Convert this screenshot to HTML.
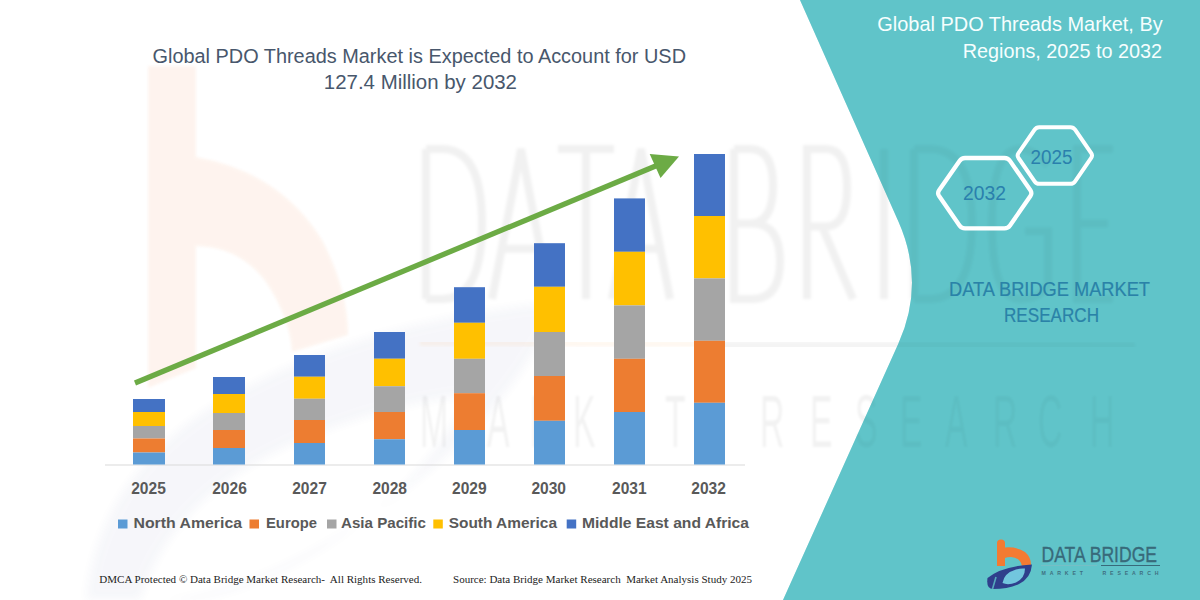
<!DOCTYPE html>
<html>
<head>
<meta charset="utf-8">
<style>
html,body{margin:0;padding:0;width:1200px;height:600px;overflow:hidden;background:#fff;}
svg{display:block;}
text{font-family:"Liberation Sans", sans-serif;}
.serif{font-family:"Liberation Serif", serif;}
</style>
</head>
<body>
<svg width="1200" height="600" viewBox="0 0 1200 600">
  <defs>
    <filter id="blur1" x="-20%" y="-20%" width="140%" height="140%"><feGaussianBlur stdDeviation="1.2"/></filter>
    <filter id="blur3" x="-20%" y="-20%" width="140%" height="140%"><feGaussianBlur stdDeviation="5"/></filter>
    <filter id="blur2" x="-5%" y="-10%" width="110%" height="120%"><feGaussianBlur stdDeviation="1.8"/></filter>
  </defs>
  <rect x="0" y="0" width="1200" height="600" fill="#ffffff"/>

  <!-- teal panel -->
  <path d="M800,0 L898.4,221.6 Q925.6,283 898.4,343.6 L783,600 L1200,600 L1200,0 Z" fill="#60c5c9"/>

  <!-- watermark -->
  <g id="wm">
    <path d="M148,66 L196,66 L196,157 Q280,172 322,240 Q348,290 348,335 L292,352 Q290,318 266,282 Q240,247 196,246 L196,368 L148,388 Z" fill="#f26a21" opacity="0.07" filter="url(#blur2)"/>
    <path d="M86,600 Q100,460 250,385 Q380,318 560,302 Q500,440 330,540 Q230,600 150,600 Z M140,600 Q170,500 290,445 Q380,405 470,395 Q420,490 320,550 Q250,592 190,600 Z" fill="#2f3f8c" fill-rule="evenodd" opacity="0.04" filter="url(#blur3)"/>
    <g fill="none" stroke="#000" stroke-opacity="0.055" stroke-width="8" stroke-linejoin="miter" filter="url(#blur2)">
      <path d="M426,149.0 L426,299.0 M426,149.0 L442,149.0 Q482,149.0 482,223.5 Q482,299.0 442,299.0 L426,299.0"/>
      <path d="M492,299.0 L521,149.0 L550,299.0 M502,248.7 L540,248.7"/>
      <path d="M558,149.0 L614,149.0 M586,149.0 L586,299.0"/>
      <path d="M612,299.0 L641,149.0 L670,299.0 M622,248.7 L660,248.7"/>
      <path d="M734,149.0 L734,299.0 L752,299.0 Q780,299.0 780,261.3 Q780,223.5 752,223.5 L734,223.5 M734,149.0 L750,149.0 Q773,149.0 773,185.8 Q773,223.5 750,223.5"/>
      <path d="M807,299.0 L807,149.0 L826,149.0 Q847,149.0 847,187.7 Q847,226.4 826,226.4 L807,226.4 M822,226.4 L853,299.0"/>
      <path d="M884,149.0 L884,299.0"/>
      <path d="M914,149.0 L914,299.0 M914,149.0 L930,149.0 Q972,149.0 972,223.5 Q972,299.0 930,299.0 L914,299.0"/>
      <path d="M1048,165.5 Q1035,149.0 1020,149.0 Q992,149.0 992,223.5 Q992,299.0 1020,299.0 Q1040,299.0 1048,284.5 L1048,231.3 L1025,231.3"/>
      <path d="M1113,149.0 L1077,149.0 L1077,299.0 L1113,299.0 M1077,223.5 L1108,223.5"/>
    </g>
    <g filter="url(#blur2)"><path d="M420,343 L700,344" stroke="#e87a3a" stroke-opacity="0.06" stroke-width="6"/><path d="M700,345 L1135,346" stroke="#000" stroke-opacity="0.045" stroke-width="8"/></g>
    <g fill="#000" fill-opacity="0.05" font-size="75" filter="url(#blur1)">
      <text transform="translate(420,447) scale(0.45,1)">M</text>
      <text transform="translate(487,447) scale(0.45,1)">A</text>
      <text transform="translate(530,447) scale(0.45,1)">R</text>
      <text transform="translate(573,447) scale(0.45,1)">K</text>
      <text transform="translate(622,447) scale(0.45,1)">E</text>
      <text transform="translate(665,447) scale(0.45,1)">T</text>
      <text transform="translate(760,447) scale(0.45,1)">R</text>
      <text transform="translate(810,447) scale(0.45,1)">E</text>
      <text transform="translate(855,447) scale(0.45,1)">S</text>
      <text transform="translate(900,447) scale(0.45,1)">E</text>
      <text transform="translate(945,447) scale(0.45,1)">A</text>
      <text transform="translate(993,447) scale(0.45,1)">R</text>
      <text transform="translate(1038,447) scale(0.45,1)">C</text>
      <text transform="translate(1090,447) scale(0.45,1)">H</text>
    </g>
  </g>
  <path d="M800,0 L898.4,221.6 Q925.6,283 898.4,343.6 L783,600 L1200,600 L1200,0 Z" fill="#60c5c9" opacity="0.3"/>

  <!-- axis line -->
  <rect x="105" y="464.5" width="640" height="1" fill="#d9d9d9"/>

  <!-- bars: x, top, blue-end, yellow-end, gray-end, orange-end, bottom 464.5 -->
  <g id="bars">
    <!-- 2025 -->
    <rect x="133" y="399" width="32" height="13" fill="#4472c4"/>
    <rect x="133" y="412" width="32" height="14" fill="#ffc000"/>
    <rect x="133" y="426" width="32" height="12.5" fill="#a5a5a5"/>
    <rect x="133" y="438.5" width="32" height="14" fill="#ed7d31"/>
    <rect x="133" y="452.5" width="32" height="12" fill="#5b9bd5"/>
    <!-- 2026 -->
    <rect x="213" y="377" width="32" height="17" fill="#4472c4"/>
    <rect x="213" y="394" width="32" height="19" fill="#ffc000"/>
    <rect x="213" y="413" width="32" height="17" fill="#a5a5a5"/>
    <rect x="213" y="430" width="32" height="18" fill="#ed7d31"/>
    <rect x="213" y="448" width="32" height="16.5" fill="#5b9bd5"/>
    <!-- 2027 -->
    <rect x="294" y="355" width="31" height="21.75" fill="#4472c4"/>
    <rect x="294" y="376.75" width="31" height="22" fill="#ffc000"/>
    <rect x="294" y="398.75" width="31" height="21.25" fill="#a5a5a5"/>
    <rect x="294" y="420" width="31" height="23" fill="#ed7d31"/>
    <rect x="294" y="443" width="31" height="21.5" fill="#5b9bd5"/>
    <!-- 2028 -->
    <rect x="374" y="332" width="31" height="26.75" fill="#4472c4"/>
    <rect x="374" y="358.75" width="31" height="27.5" fill="#ffc000"/>
    <rect x="374" y="386.25" width="31" height="25.75" fill="#a5a5a5"/>
    <rect x="374" y="412" width="31" height="27.25" fill="#ed7d31"/>
    <rect x="374" y="439.25" width="31" height="25.25" fill="#5b9bd5"/>
    <!-- 2029 -->
    <rect x="454" y="287.2" width="31" height="35.6" fill="#4472c4"/>
    <rect x="454" y="322.8" width="31" height="36" fill="#ffc000"/>
    <rect x="454" y="358.8" width="31" height="34.4" fill="#a5a5a5"/>
    <rect x="454" y="393.2" width="31" height="36.8" fill="#ed7d31"/>
    <rect x="454" y="430" width="31" height="34.5" fill="#5b9bd5"/>
    <!-- 2030 -->
    <rect x="534" y="243.2" width="31" height="43.6" fill="#4472c4"/>
    <rect x="534" y="286.8" width="31" height="45.2" fill="#ffc000"/>
    <rect x="534" y="332" width="31" height="44" fill="#a5a5a5"/>
    <rect x="534" y="376" width="31" height="44.8" fill="#ed7d31"/>
    <rect x="534" y="420.8" width="31" height="43.7" fill="#5b9bd5"/>
    <!-- 2031 -->
    <rect x="614" y="198.4" width="31" height="53.4" fill="#4472c4"/>
    <rect x="614" y="251.8" width="31" height="53.6" fill="#ffc000"/>
    <rect x="614" y="305.4" width="31" height="53.4" fill="#a5a5a5"/>
    <rect x="614" y="358.8" width="31" height="53.2" fill="#ed7d31"/>
    <rect x="614" y="412" width="31" height="52.5" fill="#5b9bd5"/>
    <!-- 2032 -->
    <rect x="694" y="154" width="31" height="62" fill="#4472c4"/>
    <rect x="694" y="216" width="31" height="62.4" fill="#ffc000"/>
    <rect x="694" y="278.4" width="31" height="62.4" fill="#a5a5a5"/>
    <rect x="694" y="340.8" width="31" height="62" fill="#ed7d31"/>
    <rect x="694" y="402.8" width="31" height="61.7" fill="#5b9bd5"/>
  </g>

  <!-- arrow -->
  <line x1="135" y1="383" x2="658" y2="165" stroke="#6cab45" stroke-width="5.3"/>
  <path d="M679,156.4 L649.7,154 L660.5,178 Z" fill="#6cab45"/>

  <!-- title -->
  <g fill="#48576c" font-size="19.6">
    <text x="152.5" y="62.6" textLength="533.5" lengthAdjust="spacingAndGlyphs">Global PDO Threads Market is Expected to Account for USD</text>
    <text x="323.8" y="89.2" textLength="193.2" lengthAdjust="spacingAndGlyphs">127.4 Million by 2032</text>
  </g>

  <!-- year labels -->
  <g fill="#595959" font-size="15.8" font-weight="bold">
    <text x="131.2" y="494.2" textLength="34.6" lengthAdjust="spacingAndGlyphs">2025</text>
    <text x="212.2" y="494.2" textLength="34.6" lengthAdjust="spacingAndGlyphs">2026</text>
    <text x="292.2" y="494.2" textLength="34.6" lengthAdjust="spacingAndGlyphs">2027</text>
    <text x="372.4" y="494.2" textLength="34.6" lengthAdjust="spacingAndGlyphs">2028</text>
    <text x="452" y="494.2" textLength="34.6" lengthAdjust="spacingAndGlyphs">2029</text>
    <text x="531.4" y="494.2" textLength="34.6" lengthAdjust="spacingAndGlyphs">2030</text>
    <text x="612" y="494.2" textLength="34.6" lengthAdjust="spacingAndGlyphs">2031</text>
    <text x="691.3" y="494.2" textLength="34.6" lengthAdjust="spacingAndGlyphs">2032</text>
  </g>

  <!-- legend -->
  <rect x="118" y="519.5" width="9.5" height="9" fill="#5b9bd5"/>
  <rect x="249.5" y="519.5" width="9.5" height="9" fill="#ed7d31"/>
  <rect x="327" y="519.5" width="9.5" height="9" fill="#a5a5a5"/>
  <rect x="433.3" y="519.5" width="9.5" height="9" fill="#ffc000"/>
  <rect x="566.7" y="519.5" width="9.5" height="9" fill="#4472c4"/>
  <g fill="#595959" font-size="15" font-weight="bold">
    <text x="133.5" y="527.7" textLength="108.5" lengthAdjust="spacingAndGlyphs">North America</text>
    <text x="266" y="527.7" textLength="51" lengthAdjust="spacingAndGlyphs">Europe</text>
    <text x="341" y="527.7" textLength="85" lengthAdjust="spacingAndGlyphs">Asia Pacific</text>
    <text x="448.7" y="527.7" textLength="108.3" lengthAdjust="spacingAndGlyphs">South America</text>
    <text x="582" y="527.7" textLength="167" lengthAdjust="spacingAndGlyphs">Middle East and Africa</text>
  </g>

  <!-- footer -->
  <g fill="#222" font-size="10.5" class="serif">
    <text class="serif" x="99.3" y="583" textLength="322.7" lengthAdjust="spacingAndGlyphs">DMCA Protected © Data Bridge Market Research-&#160; All Rights Reserved.</text>
    <text class="serif" x="453" y="583" textLength="299" lengthAdjust="spacingAndGlyphs">Source: Data Bridge Market Research&#160; Market Analysis Study 2025</text>
  </g>

  <!-- right title -->
  <g fill="#f6fefe" font-size="20.6">
    <text x="877.3" y="31.3" textLength="285.4" lengthAdjust="spacingAndGlyphs">Global PDO Threads Market, By</text>
    <text x="962.7" y="58" textLength="199.3" lengthAdjust="spacingAndGlyphs">Regions, 2025 to 2032</text>
  </g>

  <!-- hexagons -->
  <path d="M939.1,196.1 Q937.1,193.2 939.1,190.3 L959.5,160.9 Q961.5,158.0 965.0,158.0 L1004.5,158.0 Q1008.0,158.0 1010.0,160.9 L1030.4,190.3 Q1032.3,193.2 1030.4,196.1 L1010.0,225.5 Q1008.0,228.4 1004.5,228.4 L965.0,228.4 Q961.5,228.4 959.5,225.5 Z" fill="none" stroke="#ffffff" stroke-width="4.3"/>
  <path d="M1018.5,158.0 Q1016.8,155.5 1018.5,153.0 L1034.6,129.7 Q1036.2,127.2 1039.2,127.2 L1070.4,127.2 Q1073.4,127.2 1075.1,129.7 L1091.2,153.0 Q1092.8,155.5 1091.2,158.0 L1075.1,181.3 Q1073.4,183.8 1070.4,183.8 L1039.2,183.8 Q1036.2,183.8 1034.6,181.3 Z" fill="none" stroke="#ffffff" stroke-width="4"/>
  <g fill="#2a80ad" font-size="20.5">
    <text x="963" y="200" textLength="43" lengthAdjust="spacingAndGlyphs">2032</text>
    <text x="1030.5" y="164.2" textLength="42" lengthAdjust="spacingAndGlyphs">2025</text>
  </g>

  <!-- DBMR text -->
  <g fill="#2a82a8" stroke="#2a82a8" stroke-width="0.2" font-size="20.3">
    <text x="949" y="295.8" textLength="201" lengthAdjust="spacingAndGlyphs">DATA BRIDGE MARKET</text>
    <text x="1004" y="322.3" textLength="95" lengthAdjust="spacingAndGlyphs">RESEARCH</text>
  </g>

  <!-- logo -->
  <g>
    <path d="M997,566 L997,543 Q997,539.5 1001,539.5 Q1005,539.5 1005,543 L1005,547.5 Q1017,546.5 1025,552 Q1031,557 1031,565 L1022,566 Q1020,557.5 1011,557 Q1007,557 1005,558 L1005,566 Z" fill="#f37b32"/>
    <path d="M987.5,578 Q1002,566 1032,564.5 Q1031,578 1019,584 Q1008,589 993,589 Q986,589 987.5,578 Z" fill="#2f3f8c"/>
    <path d="M1002.5,583 Q1004,573 1016,569.5 Q1021,568 1025,568.5 Q1025,578 1016,582.5 Q1008,585.5 1002.5,583 Z" fill="#72c6de"/>
    <path d="M996,577 L992.5,589" stroke="#60c5c9" stroke-width="1.6" opacity="0.8"/>
  </g>
  <g fill="#386a7a" stroke="#386a7a" stroke-width="0.35" font-size="21.5">
    <text x="1041.5" y="562.3" textLength="115.6" lengthAdjust="spacingAndGlyphs">DATA BRIDGE</text>
  </g>
  <rect x="1101" y="565" width="59" height="1" fill="#386a7a"/>
  <rect x="1041" y="565" width="56" height="0.8" fill="#8fb8c0" opacity="0.6"/>
  <text x="1041.5" y="575.3" font-size="5.2" font-weight="bold" fill="#3f6f80" textLength="117" lengthAdjust="spacing" xml:space="preserve">MARKET   RESEARCH</text>
</svg>
</body>
</html>
